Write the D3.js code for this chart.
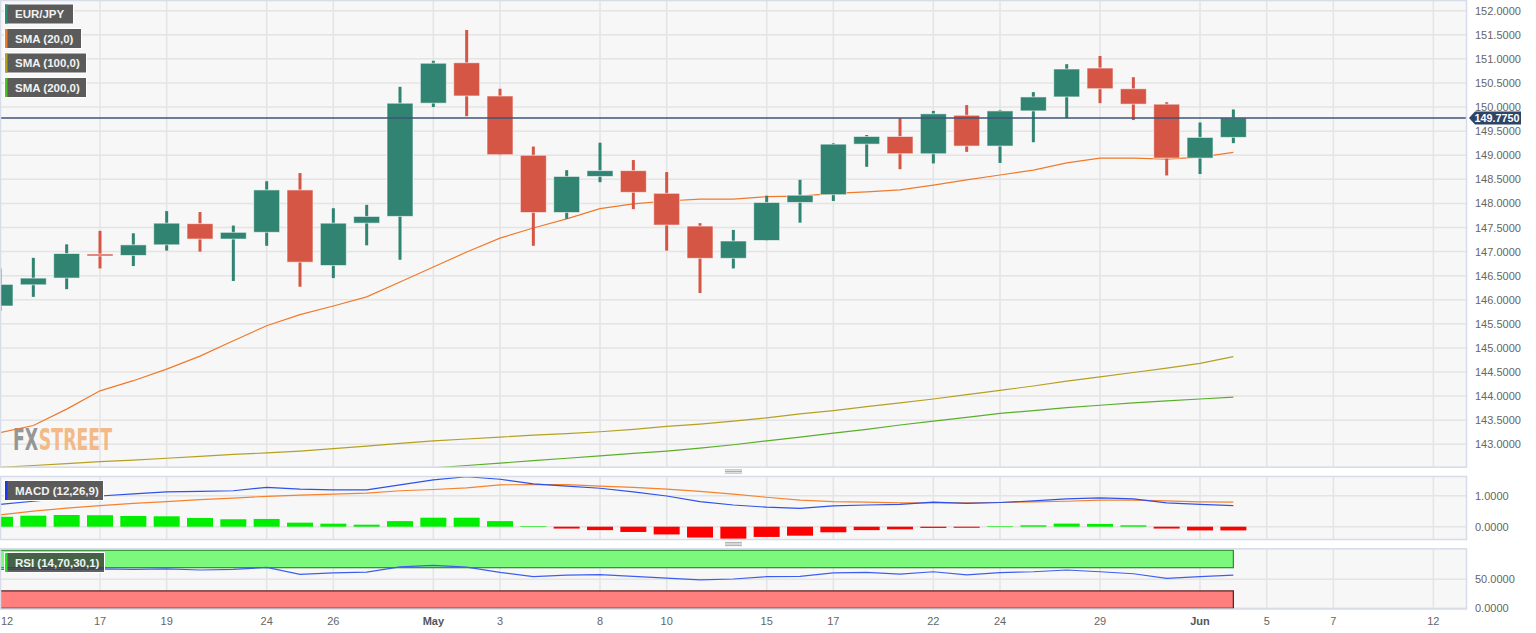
<!DOCTYPE html>
<html>
<head>
<meta charset="utf-8">
<script src="https://d3js.org/d3.v7.min.js"></script>
<style>
    body { margin: 0; background: #ffffff; }
    svg text { font-family: "Liberation Sans", Arial, sans-serif; }
</style>
</head>
<body>
<svg width="1536" height="633"></svg>
<script>
    // EUR/JPY daily candles, Apr 12 -> Jun 2 (trading day index 0..37)
    const open  = [145.87, 146.31, 146.45, 146.95, 146.92, 147.14, 147.58, 147.26, 147.40, 148.28,
                   146.71, 147.59, 147.73, 150.08, 150.92, 150.23, 149.00, 147.81, 148.56, 148.68,
                   148.21, 147.53, 146.86, 147.23, 148.02, 148.18, 149.23, 149.39, 149.03, 149.83,
                   149.19, 149.92, 150.21, 150.81, 150.38, 150.06, 148.94, 149.37];
    const high  = [146.65, 146.87, 147.15, 147.43, 147.38, 147.84, 147.82, 147.54, 148.46, 148.63,
                   147.90, 147.97, 150.42, 150.96, 151.60, 150.38, 149.18, 148.69, 149.26, 148.90,
                   148.65, 147.59, 147.45, 148.16, 148.49, 149.25, 149.42, 149.77, 149.92, 150.04,
                   149.94, 150.31, 150.89, 151.06, 150.62, 150.10, 149.68, 149.95];
    const low   = [145.77, 146.06, 146.22, 146.65, 146.70, 147.02, 147.00, 146.39, 147.12, 146.27,
                   146.45, 147.13, 146.83, 150.00, 149.81, 149.00, 147.12, 147.68, 148.44, 147.88,
                   147.02, 146.14, 146.65, 147.22, 147.60, 148.05, 148.76, 148.71, 148.83, 149.07,
                   148.84, 149.27, 149.77, 150.08, 149.73, 148.58, 148.61, 149.25];
    const close = [146.32, 146.45, 146.96, 146.92, 147.14, 147.59, 147.26, 147.40, 148.28, 146.78,
                   147.59, 147.73, 150.08, 150.91, 150.23, 149.01, 147.81, 148.56, 148.68, 148.23,
                   147.55, 146.86, 147.22, 148.02, 148.17, 149.23, 149.39, 149.03, 149.86, 149.19,
                   149.92, 150.21, 150.79, 150.38, 150.06, 148.94, 149.37, 149.775];

    const sma20  = [143.24, 143.39, 143.73, 144.11, 144.32, 144.56, 144.83, 145.15, 145.46, 145.69,
                    145.87, 146.06, 146.37, 146.68, 146.99, 147.28, 147.49, 147.68, 147.89, 147.99,
                    148.05, 148.09, 148.09, 148.14, 148.15, 148.21, 148.24, 148.28, 148.38, 148.49,
                    148.59, 148.69, 148.84, 148.94, 148.94, 148.92, 148.96, 149.06];
    const sma100 = [142.52, 142.56, 142.60, 142.64, 142.67, 142.71, 142.75, 142.79, 142.82, 142.86,
                    142.91, 142.96, 143.02, 143.07, 143.11, 143.15, 143.19, 143.22, 143.26, 143.31,
                    143.37, 143.42, 143.48, 143.55, 143.63, 143.70, 143.78, 143.86, 143.94, 144.03,
                    144.12, 144.21, 144.31, 144.40, 144.49, 144.58, 144.68, 144.82];
    const sma200 = [141.90, 141.95, 142.00, 142.05, 142.10, 142.15, 142.20, 142.25, 142.29, 142.33,
                    142.37, 142.41, 142.45, 142.51, 142.56, 142.61, 142.66, 142.71, 142.76, 142.81,
                    142.86, 142.92, 142.99, 143.07, 143.15, 143.23, 143.31, 143.40, 143.48, 143.56,
                    143.64, 143.70, 143.76, 143.81, 143.86, 143.90, 143.94, 143.98];

    const macd   = [0.72, 0.82, 0.92, 0.99, 1.06, 1.12, 1.14, 1.16, 1.27, 1.21,
                    1.19, 1.19, 1.35, 1.51, 1.61, 1.53, 1.38, 1.31, 1.24, 1.12,
                    0.99, 0.81, 0.70, 0.63, 0.59, 0.67, 0.70, 0.72, 0.79, 0.75,
                    0.78, 0.83, 0.90, 0.93, 0.90, 0.77, 0.72, 0.68];
    const signal = [0.38, 0.50, 0.60, 0.68, 0.75, 0.81, 0.87, 0.92, 0.98, 1.02,
                    1.05, 1.08, 1.16, 1.20, 1.25, 1.35, 1.36, 1.36, 1.31, 1.27,
                    1.21, 1.14, 1.05, 0.95, 0.86, 0.81, 0.79, 0.77, 0.77, 0.77,
                    0.78, 0.80, 0.82, 0.86, 0.86, 0.83, 0.80, 0.79];
    const hist   = [0.32, 0.355, 0.377, 0.37, 0.345, 0.335, 0.28, 0.24, 0.25, 0.13,
                    0.097, 0.065, 0.18, 0.29, 0.29, 0.18, 0.02, -0.06, -0.11, -0.17,
                    -0.25, -0.35, -0.39, -0.33, -0.29, -0.18, -0.11, -0.085, -0.04, -0.035,
                    0.02, 0.045, 0.10, 0.09, 0.045, -0.06, -0.12, -0.12];

    const rsi = [67, 67.5, 67, 68, 67, 68, 66, 67, 70.5, 58.5,
                 61, 62.5, 71.5, 74, 71, 62, 54.5, 57, 58, 55,
                 52, 49, 50.5, 54.5, 55, 61, 62, 59, 63, 57.5,
                 61.5, 63, 66, 63, 59.5, 51.5, 54.5, 57];

    // x axis: trading day index -> label
    const tickIdx    = [0, 3, 5, 8, 10, 13, 15, 18, 20, 23, 25, 28, 30, 33, 36, 38, 40, 43];
    const tickLabels = ["12", "17", "19", "24", "26", "May", "3", "8", "10", "15", "17", "22", "24", "29", "Jun", "5", "7", "12"];

    const priceTicks = [143, 143.5, 144, 144.5, 145, 145.5, 146, 146.5, 147, 147.5, 148, 148.5, 149, 149.5, 150, 150.5, 151, 151.5, 152];
    const macdTicks = [0, 1];
    const rsiTicks = [0, 50];

    const svg = d3.select("svg");
    const plotW = 1467;
    const idx = d3.range(close.length);

    const x = d3.scaleLinear().domain([0, 44]).range([0, 1466.7]);
    const yMain = d3.scaleLinear().domain([142.514, 152.222]).range([467.7, 0]);
    const yMacd = d3.scaleLinear().domain([-0.429, 1.635]).range([540, 476]);
    const yRsi = d3.scaleLinear().domain([-2.07, 103.4]).range([609.5, 548.3]);

    // draw a panel: background, grid, clip, right axis labels
    function panel(name, y, ticks) {
        const top = y.range()[1], bottom = y.range()[0];
        svg.append("clipPath").attr("id", "clip-" + name)
            .append("rect").attr("x", 0).attr("y", top).attr("width", plotW).attr("height", bottom - top);

        svg.append("rect")
            .attr("x", 0.5).attr("y", top + 0.5)
            .attr("width", plotW - 1).attr("height", bottom - top - 1)
            .attr("fill", "#f7f7f7");

        const grid = svg.append("g").attr("clip-path", "url(#clip-" + name + ")");
        grid.selectAll(".vg").data(tickIdx).enter().append("line")
            .attr("x1", d => x(d)).attr("x2", d => x(d))
            .attr("y1", top).attr("y2", bottom)
            .attr("stroke", "#e4e4e4").attr("stroke-width", 1.5);
        grid.selectAll(".hg").data(ticks).enter().append("line")
            .attr("x1", 0).attr("x2", plotW)
            .attr("y1", d => y(d)).attr("y2", d => y(d))
            .attr("stroke", "#e4e4e4").attr("stroke-width", 1.5);

        const axis = svg.append("g")
            .attr("transform", `translate(${plotW},0)`)
            .call(d3.axisRight(y).tickValues(ticks).tickFormat(d3.format(".4f")).tickSize(0).tickPadding(8));
        axis.select(".domain").remove();
        axis.selectAll("text").attr("fill", "#666").style("font-size", "11px");

        const g = svg.append("g").attr("clip-path", "url(#clip-" + name + ")");
        return { g: g, top: top, bottom: bottom };
    }

    function border(p) {
        svg.append("rect")
            .attr("x", 0.5).attr("y", p.top + 0.5)
            .attr("width", plotW - 1).attr("height", p.bottom - p.top - 1)
            .attr("fill", "none").attr("stroke", "#d6dce8").attr("stroke-width", 1.5);
    }

    // ---------- main price panel ----------
    const main = panel("main", yMain, priceTicks);

    // watermark: two words placed edge to edge, squeezed horizontally as a group
    const wm = main.g.append("g");
    const wmFont = "'DejaVu Sans Condensed', 'DejaVu Sans'";
    const fx = wm.append("text").attr("x", 0).attr("y", 0)
        .style("font-family", wmFont).style("font-weight", "bold").style("font-size", "31px")
        .attr("fill", "#8c8c8c").attr("opacity", 0.9).text("FX");
    const fxW = fx.node().getComputedTextLength();
    const st = wm.append("text").attr("x", fxW + 1).attr("y", 0)
        .style("font-family", wmFont).style("font-weight", "bold").style("font-size", "31px")
        .attr("fill", "#f3b37a").attr("opacity", 0.9).text("STREET");
    const wmW = fxW + 1 + st.node().getComputedTextLength();
    wm.attr("transform", `translate(13,450) scale(${99 / wmW},1)`);

    const lineMain = s => d3.line().x((d, i) => x(i)).y(d => yMain(d))(s);
    main.g.append("path").attr("d", lineMain(sma200)).attr("fill", "none").attr("stroke", "#5aaf2a").attr("stroke-width", 1.2);
    main.g.append("path").attr("d", lineMain(sma100)).attr("fill", "none").attr("stroke", "#b5a022").attr("stroke-width", 1.2);
    main.g.append("path").attr("d", lineMain(sma20)).attr("fill", "none").attr("stroke", "#f07a2c").attr("stroke-width", 1.2);

    const upCol = "#318472", downCol = "#d55645";
    const candle = main.g.selectAll(".candle").data(idx).enter().append("g");
    candle.append("rect")
        .attr("x", i => x(i) - 1.5).attr("width", 3)
        .attr("y", i => yMain(high[i]))
        .attr("height", i => yMain(low[i]) - yMain(high[i]))
        .attr("fill", i => close[i] >= open[i] ? upCol : downCol);
    candle.append("rect")
        .attr("x", i => x(i) - 13).attr("width", 26)
        .attr("y", i => yMain(Math.max(open[i], close[i])))
        .attr("height", i => Math.max(2, Math.abs(yMain(open[i]) - yMain(close[i]))))
        .attr("fill", i => close[i] >= open[i] ? upCol : downCol)
        .attr("stroke", "#ffffff").attr("stroke-opacity", 0.6).attr("stroke-width", 1);

    // last price line
    const last = close[close.length - 1];
    main.g.append("line")
        .attr("x1", 0).attr("x2", plotW)
        .attr("y1", yMain(last)).attr("y2", yMain(last))
        .attr("stroke", "#3e5478").attr("stroke-width", 1.5);
    border(main);

    const ly = yMain(last);
    svg.append("path")
        .attr("d", `M1469,${ly} L1475,${ly - 6.5} L1521,${ly - 6.5} L1521,${ly + 6.5} L1475,${ly + 6.5} Z`)
        .attr("fill", "#2b4468");
    svg.append("text").attr("x", 1474.5).attr("y", ly).attr("dy", "0.36em")
        .attr("fill", "#ffffff").style("font-size", "10.5px").style("font-weight", "bold")
        .attr("textLength", 45).attr("lengthAdjust", "spacingAndGlyphs")
        .text(d3.format(".4f")(last));

    // ---------- MACD panel ----------
    const pm = panel("macd", yMacd, macdTicks);
    pm.g.selectAll(".bar").data(idx).enter().append("rect")
        .attr("x", i => x(i) - 13).attr("width", 26)
        .attr("y", i => yMacd(Math.max(0, hist[i])))
        .attr("height", i => Math.abs(yMacd(hist[i]) - yMacd(0)))
        .attr("fill", i => hist[i] >= 0 ? "#00ee00" : "#ff0000");
    const lineMacd = s => d3.line().x((d, i) => x(i)).y(d => yMacd(d))(s);
    pm.g.append("path").attr("d", lineMacd(signal)).attr("fill", "none").attr("stroke", "#f5822e").attr("stroke-width", 1.2);
    pm.g.append("path").attr("d", lineMacd(macd)).attr("fill", "none").attr("stroke", "#2f52e8").attr("stroke-width", 1.2);
    border(pm);

    // ---------- RSI panel ----------
    const pr = panel("rsi", yRsi, rsiTicks);
    const bandW = x(close.length - 1) - x(0);
    pr.g.append("rect")
        .attr("x", x(0)).attr("width", bandW)
        .attr("y", yRsi(100)).attr("height", yRsi(70) - yRsi(100))
        .attr("fill", "#7cf97c").attr("stroke", "#2f8a2f").attr("stroke-width", 1.2);
    pr.g.append("rect")
        .attr("x", x(0)).attr("width", bandW)
        .attr("y", yRsi(30)).attr("height", yRsi(0) - yRsi(30))
        .attr("fill", "#ff7e7e").attr("stroke", "#5a1a1a").attr("stroke-width", 1.2);
    pr.g.append("path")
        .attr("d", d3.line().x((d, i) => x(i)).y(d => yRsi(d))(rsi))
        .attr("fill", "none").attr("stroke", "#3d5ff0").attr("stroke-width", 1.2);
    border(pr);

    // panel resize handles
    [471.5, 544].forEach(function (hy) {
        [-1.6, 0, 1.6].forEach(function (o) {
            svg.append("line").attr("x1", 725).attr("x2", 742)
                .attr("y1", hy + o).attr("y2", hy + o)
                .attr("stroke", "#8a8a8a").attr("stroke-width", 0.7);
        });
    });

    // x axis labels
    svg.selectAll(".xl").data(tickIdx).enter().append("text")
        .attr("x", (d, i) => i === 0 ? 1 : x(d))
        .attr("y", 621).attr("dy", "0.35em")
        .attr("text-anchor", (d, i) => i === 0 ? "start" : "middle")
        .attr("fill", (d, i) => isNaN(+tickLabels[i]) ? "#555" : "#666")
        .style("font-size", "11px")
        .style("font-weight", (d, i) => isNaN(+tickLabels[i]) ? "bold" : "normal")
        .text((d, i) => tickLabels[i]);

    // legend boxes
    function legend(ly, w, label, color, fill) {
        const g = svg.append("g");
        g.append("rect").attr("x", 4.5).attr("y", ly + 0.5).attr("width", w).attr("height", 20)
            .attr("fill", fill || "#5b5b5b").attr("stroke", "#ffffff").attr("stroke-width", 1);
        g.append("rect").attr("x", 5).attr("y", ly + 1).attr("width", 2.5).attr("height", 19).attr("fill", color);
        g.append("text").attr("x", 15).attr("y", ly + 10.5).attr("dy", "0.36em")
            .attr("fill", "#f2f2f2").style("font-size", "11.5px").style("font-weight", "bold")
            .text(label);
    }
    legend(3.5, 69, "EUR/JPY", "#2a8c76");
    legend(28, 77, "SMA (20,0)", "#f07a2c");
    legend(52.5, 82, "SMA (100,0)", "#b5a022");
    legend(77, 82, "SMA (200,0)", "#4cc21c");
    legend(480, 99, "MACD (12,26,9)", "#1838f0");
    legend(552, 100, "RSI (14,70,30,1)", "#22e022", "rgba(55,55,55,0.78)");
</script>
</body>
</html>
